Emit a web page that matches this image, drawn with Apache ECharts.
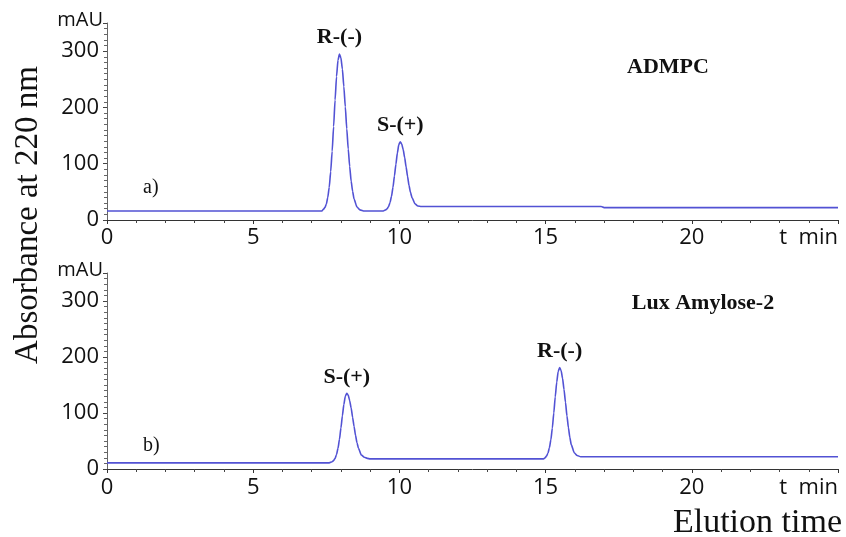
<!DOCTYPE html>
<html>
<head>
<meta charset="utf-8">
<script src="https://cdn.jsdelivr.net/npm/echarts@6/dist/echarts.min.js"></script>
<style>
  html, body { margin: 0; padding: 0; background: #fff; }
  #main { width: 846px; height: 537px; }
</style>
</head>
<body>
<div id="main"></div>
<script>
// a) ADMPC chromatogram
const timeA = [0, 7.35, 7.4, 7.45, 7.5, 7.55, 7.6, 7.65, 7.7, 7.75, 7.8, 7.85, 7.9, 7.95, 8.0, 8.05, 8.1, 8.15, 8.2, 8.25, 8.3, 8.35, 8.4, 8.45, 8.55, 8.65, 8.8, 9.45, 9.53, 9.58, 9.63, 9.68, 9.73, 9.78, 9.83, 9.88, 9.93, 9.98, 10.03, 10.08, 10.13, 10.18, 10.23, 10.28, 10.33, 10.38, 10.43, 10.53, 10.63, 10.75, 16.9, 17.0, 25];
const absA = [16, 16, 19, 22, 28, 40, 58, 86, 122, 166, 213, 255, 284, 295, 288, 268, 237, 201, 162, 126, 95, 69, 51, 37, 23, 18, 16, 16, 18, 20, 24, 31, 42, 58, 78, 99, 119, 134, 139, 135, 125, 111, 94, 77, 61, 49, 40, 29, 25, 24, 24, 22, 22];
const peakNamesA = ['R-(-)', 'S-(+)'];
const peakTimesA = [7.95, 10.03];
const peakValsA = [295, 139];

// b) Lux Amylose-2 chromatogram
const timeB = [0, 7.6, 7.7, 7.75, 7.8, 7.85, 7.9, 7.95, 8.0, 8.05, 8.1, 8.15, 8.2, 8.25, 8.3, 8.35, 8.4, 8.45, 8.5, 8.55, 8.6, 8.7, 8.8, 8.9, 9.0, 14.85, 14.93, 14.98, 15.03, 15.08, 15.13, 15.18, 15.23, 15.28, 15.33, 15.38, 15.43, 15.48, 15.53, 15.58, 15.63, 15.68, 15.73, 15.78, 15.83, 15.88, 15.98, 16.08, 16.2, 25];
const absB = [11, 11, 13, 15, 19, 26, 37, 53, 73, 95, 115, 130, 135, 132, 122, 109, 92, 76, 60, 47, 37, 25, 21, 19, 18, 18, 18, 20, 23, 28, 38, 52, 73, 100, 129, 155, 174, 181, 176, 162, 142, 119, 95, 74, 56, 43, 29, 24, 22, 22];
const peakNamesB = ['S-(+)', 'R-(-)'];
const peakTimesB = [8.2, 15.48];
const peakValsB = [135, 181];

// axis ticks
const xTicks = { min: 0, max: 25, interval: 5 };
const yTicks = { min: 0, max: 350, interval: 100 };

let chart = echarts.init(document.getElementById('main'));

const lineColor = '#5252d4';
const sansFont = '"Open Sans", "DejaVu Sans", sans-serif';
const serifFont = '"Liberation Serif", "DejaVu Serif", serif';

function pairs(xs, ys) {
	return xs.map((x, i) => [x, ys[i]]);
}

function peakMarks(names, ts, vs) {
	return names.map((n, i) => ({ name: n, coord: [ts[i], vs[i]] }));
}

function makeX(gridIndex, margin) {
	return {
		gridIndex: gridIndex,
		type: 'value',
		min: xTicks.min,
		max: xTicks.max,
		interval: xTicks.interval,
		axisLine: { lineStyle: { color: '#333', width: 1 } },
		axisTick: { show: true, length: 4, lineStyle: { color: '#333' } },
		minorTick: { show: true, splitNumber: 5, length: 3, lineStyle: { color: '#444' } },
		splitLine: { show: false },
		axisLabel: {
			margin: margin,
			fontFamily: sansFont,
			fontSize: 22,
			color: '#111',
			alignMaxLabel: 'right',
			formatter: v => (v === xTicks.max ? 't  min' : String(v))
		}
	};
}

function makeY(gridIndex) {
	return {
		gridIndex: gridIndex,
		type: 'value',
		min: yTicks.min,
		max: yTicks.max,
		interval: yTicks.interval,
		name: 'mAU',
		nameLocation: 'end',
		nameGap: 3,
		nameTextStyle: { fontFamily: sansFont, fontSize: 20, color: '#111', align: 'right', verticalAlign: 'middle', padding: [0, 4, 0, 0] },
		axisLine: { show: true, lineStyle: { color: '#666', width: 1 } },
		axisTick: { show: true, length: 4, lineStyle: { color: '#444' } },
		minorTick: { show: true, splitNumber: 10, length: 3, lineStyle: { color: '#666' } },
		splitLine: { show: false },
		axisLabel: {
			margin: 8,
			fontFamily: sansFont,
			fontSize: 22,
			color: '#111',
			showMaxLabel: false
		}
	};
}

function makeSeries(idx, xs, ys, names, ts, vs) {
	return {
		type: 'line',
		xAxisIndex: idx,
		yAxisIndex: idx,
		data: pairs(xs, ys),
		showSymbol: false,
		smooth: 0.2,
		smoothMonotone: 'x',
		lineStyle: { color: lineColor, width: 1.6 },
		markPoint: {
			symbol: 'circle',
			symbolSize: 1,
			itemStyle: { color: 'rgba(0,0,0,0)' },
			label: {
				show: true,
				position: 'top',
				distance: 5,
				formatter: '{b}',
				fontFamily: serifFont,
				fontWeight: 'bold',
				fontSize: 22,
				color: '#111'
			},
			data: peakMarks(names, ts, vs)
		}
	};
}

let option = {
	animation: false,
	backgroundColor: '#fff',
	grid: [
		{ left: 107, right: 8, top: 23, height: 197 },
		{ left: 107, right: 8, top: 273, height: 196 }
	],
	xAxis: [makeX(0, 7), makeX(1, 8)],
	yAxis: [makeY(0), makeY(1)],
	series: [
		makeSeries(0, timeA, absA, peakNamesA, peakTimesA, peakValsA),
		makeSeries(1, timeB, absB, peakNamesB, peakTimesB, peakValsB)
	],
	graphic: [
		{ type: 'text', x: 668, y: 67, style: { text: 'ADMPC', font: 'bold 22px ' + serifFont, fill: '#111', align: 'center', verticalAlign: 'middle' } },
		{ type: 'text', x: 703, y: 303, style: { text: 'Lux Amylose-2', font: 'bold 22px ' + serifFont, fill: '#111', align: 'center', verticalAlign: 'middle' } },
		{ type: 'text', x: 143, y: 188, style: { text: 'a)', font: '20px ' + serifFont, fill: '#111', align: 'left', verticalAlign: 'middle' } },
		{ type: 'text', x: 143, y: 446, style: { text: 'b)', font: '20px ' + serifFont, fill: '#111', align: 'left', verticalAlign: 'middle' } },
		{ type: 'text', x: 28, y: 215, rotation: Math.PI / 2, style: { text: 'Absorbance at 220 nm', font: '33px ' + serifFont, fill: '#111', align: 'center', verticalAlign: 'middle' } },
		{ type: 'text', x: 842, y: 523, style: { text: 'Elution time', font: '34px ' + serifFont, fill: '#111', align: 'right', verticalAlign: 'middle' } }
	]
};

chart.setOption(option);
</script>
</body>
</html>
